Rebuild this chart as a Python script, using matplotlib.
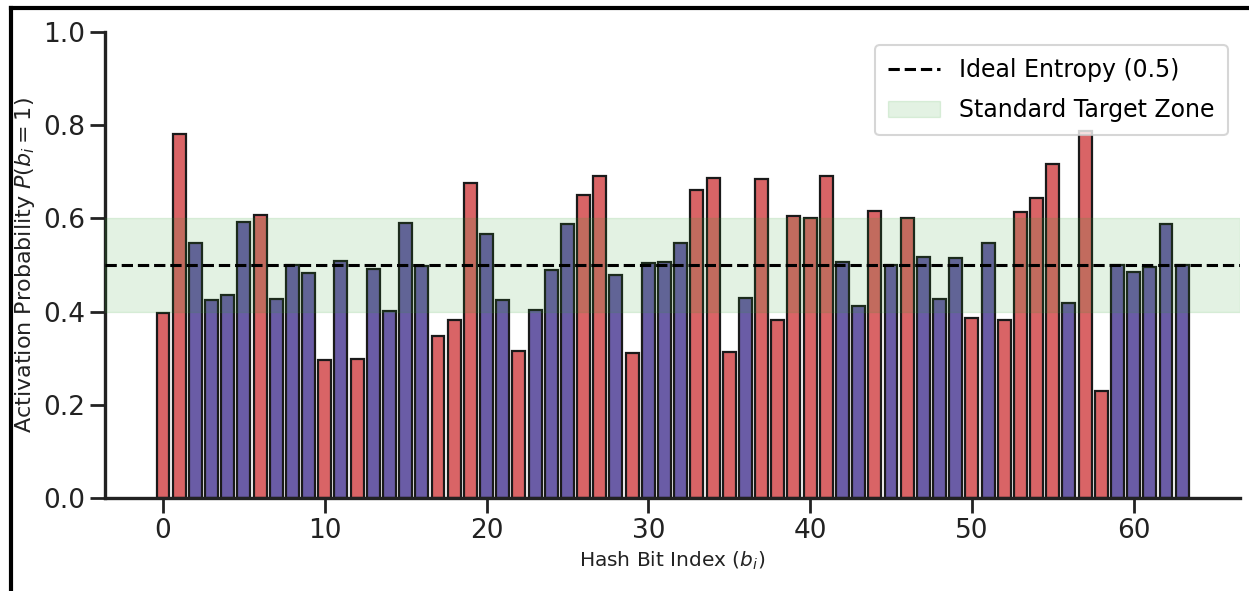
import matplotlib.pyplot as plt
from matplotlib.lines import Line2D
import numpy as np

bits = list(range(64))
probs = [0.398, 0.782, 0.548, 0.425, 0.436, 0.592, 0.607, 0.428, 0.501, 0.484,
         0.297, 0.508, 0.299, 0.491, 0.402, 0.591, 0.499, 0.347, 0.383, 0.677,
         0.567, 0.426, 0.315, 0.403, 0.489, 0.589, 0.650, 0.691, 0.479, 0.312,
         0.504, 0.507, 0.548, 0.661, 0.686, 0.313, 0.430, 0.685, 0.382, 0.605,
         0.601, 0.691, 0.507, 0.412, 0.615, 0.500, 0.602, 0.518, 0.427, 0.515,
         0.386, 0.548, 0.383, 0.614, 0.643, 0.716, 0.418, 0.787, 0.230, 0.501,
         0.486, 0.495, 0.588, 0.501]
ideal = 0.5
zone = (0.4, 0.6)

red = '#d96466'
purple = '#6a5ca6'
colors = [red if (p < zone[0] or p > zone[1]) else purple for p in probs]

fig = plt.figure(figsize=(12.49, 5.91), dpi=100)
ax = fig.add_axes([0.084, 0.157, 0.909, 0.789])

ax.bar(bits, probs, width=0.8, color=colors, edgecolor='#1a1a1a', linewidth=1.6, zorder=2)
ax.axhline(ideal, color='black', linestyle='--', linewidth=2.2, zorder=4, label='Ideal Entropy (0.5)')
ax.axhspan(zone[0], zone[1], color='#2ca02c', alpha=0.13, zorder=3, label='Standard Target Zone')

ax.set_ylim(0, 1.0)
ax.set_yticks([0.0, 0.2, 0.4, 0.6, 0.8, 1.0])
ax.set_xticks(range(0, 61, 10))
ax.spines['top'].set_visible(False)
ax.spines['right'].set_visible(False)
for s in ['left', 'bottom']:
    ax.spines[s].set_linewidth(2.4)
    ax.spines[s].set_color('#222222')
ax.tick_params(axis='both', labelsize=19, length=11, width=2, color='#222222', labelcolor='#222222')

ax.set_xlabel('Hash Bit Index ($b_i$)', fontsize=14.5, color='#222222')
ax.set_ylabel('Activation Probability $P(b_i = 1)$', fontsize=16, color='#222222')

leg = ax.legend(loc='upper right', fontsize=17, frameon=True, fancybox=True,
                borderpad=0.55, labelspacing=0.7, handlelength=2.2,
                borderaxespad=0, bbox_to_anchor=(0.989, 0.972))
leg.get_frame().set_edgecolor('#cccccc')
leg.get_frame().set_linewidth(1.5)
leg.set_zorder(10)

# frame lines of the screenshot
fig.add_artist(Line2D([0.0092, 1.0], [0.986, 0.986], color='black', linewidth=3, transform=fig.transFigure))
fig.add_artist(Line2D([0.0092, 0.0092], [0.0, 0.986], color='black', linewidth=3, transform=fig.transFigure))

fig.savefig('out.png', dpi=100)
